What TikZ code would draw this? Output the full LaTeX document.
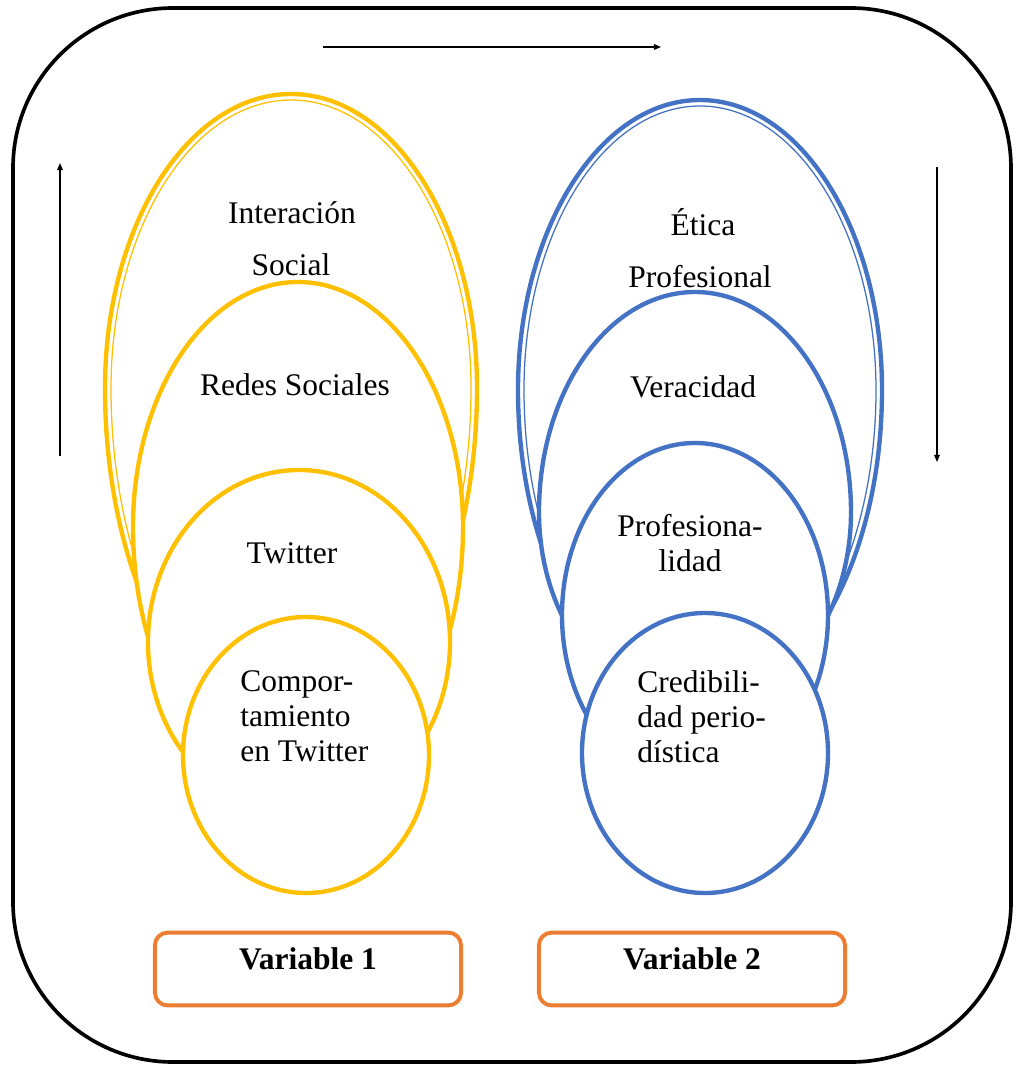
\documentclass[tikz,border=0pt]{standalone}
\usepackage{fontspec}
\setmainfont{Liberation Serif}
\usetikzlibrary{arrows.meta}

\definecolor{gold}{HTML}{FFC000}
\definecolor{steel}{HTML}{4472C4}
\definecolor{tangerine}{HTML}{ED7D31}

\begin{document}
\begin{tikzpicture}[x=0.025cm,y=-0.025cm,
        ring/.style={line width=3.1pt, fill=white},
        thinring/.style={line width=0.9pt},
        lbl/.style={font=\fontsize{22.4}{25}\selectfont, inner sep=0pt},
        flow/.style={line width=0.9pt, -{Triangle[length=5pt,width=4pt]}},
        varbox/.style={draw=tangerine, line width=2.8pt, rounded corners=9pt,
                minimum width=7.65cm, minimum height=1.82cm,
                text height=15pt, text depth=14pt,
                font=\fontsize{22.4}{25}\selectfont\bfseries}]
        \useasboundingbox (0,0) rectangle (1016,1068);

        % frame
        \draw[line width=2.6pt, rounded corners=4cm] (13,8) rectangle (1011,1062);

        % direction arrows
        \coordinate (hL) at (323,47);
        \coordinate (hR) at (661,47);
        \coordinate (lB) at (60,456);
        \coordinate (lT) at (60,163);
        \coordinate (rT) at (937,167);
        \coordinate (rB) at (937,462);
        \draw[flow] (hL) -- (hR);
        \draw[flow] (lB) -- (lT);
        \draw[flow] (rT) -- (rB);

        % variable 1 (egg shapes: lower half longer than upper half)
        \draw[gold, ring] (477,388) arc[start angle=0, end angle=180, x radius=186, y radius=347]
              arc[start angle=180, end angle=360, x radius=186, y radius=294] -- cycle;
        \draw[gold, thinring] (471,388) arc[start angle=0, end angle=180, x radius=180, y radius=341]
              arc[start angle=180, end angle=360, x radius=180, y radius=288] -- cycle;
        \draw[gold, ring] (463,527) arc[start angle=0, end angle=180, x radius=165, y radius=263]
              arc[start angle=180, end angle=360, x radius=165, y radius=245] -- cycle;
        \draw[gold, ring] (299,642) ellipse (151 and 172);
        \draw[gold, ring] (306,755) ellipse (123 and 138);

        % variable 2
        \draw[steel, ring] (882,390) arc[start angle=0, end angle=180, x radius=182, y radius=315]
              arc[start angle=180, end angle=360, x radius=182, y radius=290] -- cycle;
        \draw[steel, thinring] (876,390) arc[start angle=0, end angle=180, x radius=176, y radius=309]
              arc[start angle=180, end angle=360, x radius=176, y radius=284] -- cycle;
        \draw[steel, ring] (851,512) arc[start angle=0, end angle=180, x radius=156, y radius=198]
              arc[start angle=180, end angle=360, x radius=156, y radius=220] -- cycle;
        \draw[steel, ring] (695,615) ellipse (133 and 172);
        \draw[steel, ring] (705,753) ellipse (123 and 140);

        \node[lbl] (interac) at (292,213) {Interación};
        \node[lbl] (social) at (291,265) {Social};
        \node[lbl] (redes) at (295,385) {Redes Sociales};
        \node[lbl] (twitter) at (292,553) {Twitter};
        \node[lbl, anchor=west, align=left] (comport) at (240,716) {Compor-\\tamiento\\en Twitter};

        \node[lbl] (etica) at (703,222) {Ética};
        \node[lbl] (profesional) at (700,277) {Profesional};
        \node[lbl] (veracidad) at (693,387) {Veracidad};
        \node[lbl, align=center] (profesionalidad) at (690,543) {Profesiona-\\lidad};
        \node[lbl, anchor=west, align=left] (credib) at (637,717) {Credibili-\\dad perio-\\dística};

        \node[varbox] (var1) at (308,969) {Variable 1};
        \node[varbox] (var2) at (692,969) {Variable 2};
\end{tikzpicture}
\end{document}
